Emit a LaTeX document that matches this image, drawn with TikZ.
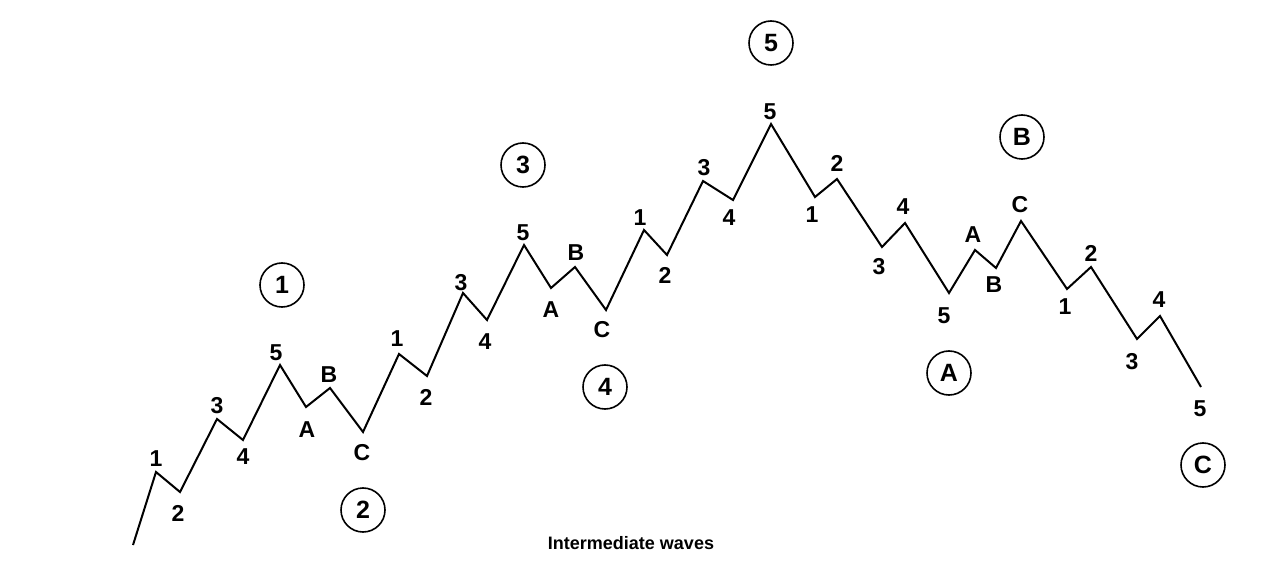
\documentclass[tikz,border=0pt]{standalone}
\usepackage{fontspec}
\setmainfont{Liberation Sans}
\usepackage{tikz}
\usetikzlibrary{calc}
\tikzset{
    rotulo/.style={
        inner sep=0pt,
        font=\fontsize{11.5}{13}\selectfont\bfseries
    },
    circulo/.style={
        circle,
        draw,
        thick,
        inner sep=0pt,
        minimum size=22pt,
        font=\fontsize{12.5}{14}\selectfont\bfseries
    },
    onda/.style={line width=1pt, line join=miter},
    legenda/.style={inner sep=0pt, font=\fontsize{9}{11}\selectfont\bfseries}
}

\begin{document}
\begin{tikzpicture}[x=0.5pt, y=-0.5pt]
        \useasboundingbox (0,0) rectangle (1285,572);

        % vertices da onda
        \coordinate (p0) at (133,545);
        \coordinate (p1) at (156,472);
        \coordinate (p2) at (180,492);
        \coordinate (p3) at (217,419);
        \coordinate (p4) at (243,440);
        \coordinate (p5) at (280,365);
        \coordinate (pA) at (306,407);
        \coordinate (pB) at (330,388);
        \coordinate (pC) at (363,432);
        \coordinate (q1) at (399,354);
        \coordinate (q2) at (427,376);
        \coordinate (q3) at (463,293);
        \coordinate (q4) at (487,320);
        \coordinate (q5) at (524,245);
        \coordinate (qA) at (551,288);
        \coordinate (qB) at (575,267);
        \coordinate (qC) at (606,310);
        \coordinate (r1) at (644,230);
        \coordinate (r2) at (667,255);
        \coordinate (r3) at (703,181);
        \coordinate (r4) at (733,200);
        \coordinate (r5) at (771,124);
        \coordinate (s1) at (815,197);
        \coordinate (s2) at (837,179);
        \coordinate (s3) at (882,247);
        \coordinate (s4) at (905,223);
        \coordinate (s5) at (949,293);
        \coordinate (sA) at (975,250);
        \coordinate (sB) at (996,268);
        \coordinate (sC) at (1021,221);
        \coordinate (t1) at (1067,289);
        \coordinate (t2) at (1091,267);
        \coordinate (t3) at (1137,339);
        \coordinate (t4) at (1160,316);
        \coordinate (t5) at (1201,387);

        \draw[onda] (p0) -- (p1) -- (p2) -- (p3) -- (p4) -- (p5) -- (pA) -- (pB) -- (pC)
            -- (q1) -- (q2) -- (q3) -- (q4) -- (q5) -- (qA) -- (qB) -- (qC)
            -- (r1) -- (r2) -- (r3) -- (r4) -- (r5) -- (s1) -- (s2) -- (s3) -- (s4) -- (s5)
            -- (sA) -- (sB) -- (sC) -- (t1) -- (t2) -- (t3) -- (t4) -- (t5);

        % rotulos menores
        \node[rotulo] (lp1) at (156,459) {1};
        \node[rotulo] (lp2) at (178,513) {2};
        \node[rotulo] (lp3) at (217,406) {3};
        \node[rotulo] (lp4) at (243,457) {4};
        \node[rotulo] (lp5) at (276,353) {5};
        \node[rotulo] (lpA) at (307,430) {A};
        \node[rotulo] (lpB) at (329,375) {B};
        \node[rotulo] (lpC) at (362,453) {C};
        \node[rotulo] (lq1) at (397,339) {1};
        \node[rotulo] (lq2) at (426,397) {2};
        \node[rotulo] (lq3) at (461,283) {3};
        \node[rotulo] (lq4) at (485,342) {4};
        \node[rotulo] (lq5) at (523,233) {5};
        \node[rotulo] (lqA) at (551,310) {A};
        \node[rotulo] (lqB) at (576,253) {B};
        \node[rotulo] (lqC) at (602,330) {C};
        \node[rotulo] (lr1) at (640,218) {1};
        \node[rotulo] (lr2) at (665,275) {2};
        \node[rotulo] (lr3) at (704,168) {3};
        \node[rotulo] (lr4) at (729,218) {4};
        \node[rotulo] (lr5) at (770,112) {5};
        \node[rotulo] (ls1) at (812,215) {1};
        \node[rotulo] (ls2) at (837,163) {2};
        \node[rotulo] (ls3) at (879,267) {3};
        \node[rotulo] (ls4) at (903,207) {4};
        \node[rotulo] (ls5) at (944,316) {5};
        \node[rotulo] (lsA) at (973,235) {A};
        \node[rotulo] (lsB) at (994,285) {B};
        \node[rotulo] (lsC) at (1020,205) {C};
        \node[rotulo] (lt1) at (1065,307) {1};
        \node[rotulo] (lt2) at (1091,253) {2};
        \node[rotulo] (lt3) at (1132,362) {3};
        \node[rotulo] (lt4) at (1159,300) {4};
        \node[rotulo] (lt5) at (1200,409) {5};

        % ondas intermediarias
        \node[circulo] (c1) at (282,285) {1};
        \node[circulo] (c2) at (363,510) {2};
        \node[circulo] (c3) at (523,165) {3};
        \node[circulo] (c4) at (605,387) {4};
        \node[circulo] (c5) at (771,43) {5};
        \node[circulo] (cA) at (949,373) {A};
        \node[circulo] (cB) at (1022,137) {B};
        \node[circulo] (cC) at (1203,465) {C};

        \node[legenda] (titulo) at (631,543) {Intermediate waves};
    \end{tikzpicture}
\end{document}
